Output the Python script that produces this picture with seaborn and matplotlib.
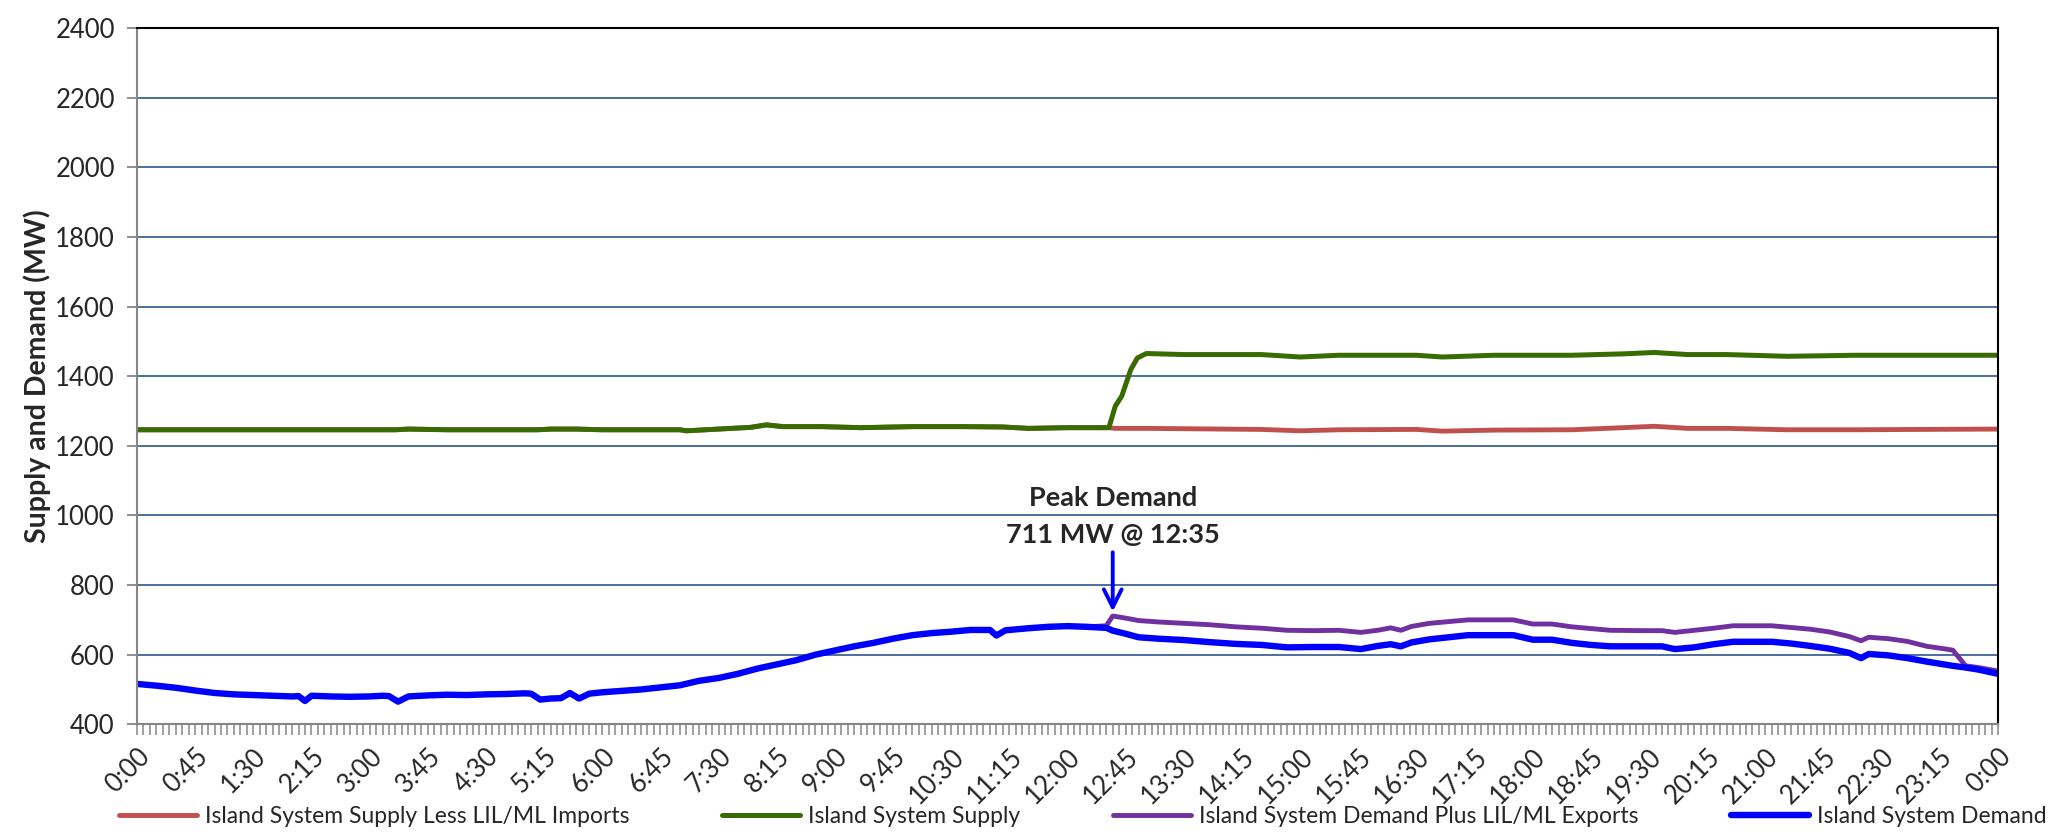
import matplotlib
matplotlib.use('Agg')
import matplotlib.pyplot as plt
import pandas as pd
import seaborn as sns

# demand readings (blue = island demand, purple = demand plus LIL/ML exports)
demand_times = ['0:00', '0:15', '0:30', '0:45', '1:00', '1:15', '1:30', '1:45', '2:00', '2:05',
                '2:10', '2:15', '2:30', '2:45', '3:00', '3:10', '3:15', '3:22', '3:30', '3:45',
                '4:00', '4:15', '4:30', '4:45', '5:00', '5:05', '5:12', '5:20', '5:28', '5:35',
                '5:42', '5:50', '6:00', '6:15', '6:30', '6:45', '7:00', '7:15', '7:30', '7:45',
                '8:00', '8:15', '8:30', '8:45', '9:00', '9:15', '9:30', '9:45', '10:00', '10:15',
                '10:30', '10:45', '11:00', '11:05', '11:12', '11:30', '11:45', '12:00', '12:15', '12:30',
                '12:35', '12:45', '12:55', '13:10', '13:30', '13:50', '14:10', '14:30', '14:50', '15:10',
                '15:30', '15:47', '16:00', '16:10', '16:18', '16:26', '16:40', '16:55', '17:10', '17:25',
                '17:45', '18:00', '18:15', '18:30', '18:45', '19:00', '19:25', '19:40', '19:50', '20:05',
                '20:20', '20:35', '20:50', '21:05', '21:20', '21:35', '21:50', '22:05', '22:14', '22:20',
                '22:35', '22:50', '23:05', '23:20', '23:25', '23:35', '23:45', '24:00']
demand_mw = [516, 511, 505, 497, 490, 486, 484, 482, 480, 481,
             467, 482, 480, 479, 480, 482, 481, 465, 480, 483,
             485, 484, 486, 487, 489, 488, 471, 474, 475, 490,
             474, 488, 492, 496, 500, 506, 512, 525, 533, 545,
             560, 572, 584, 600, 612, 624, 634, 646, 656, 662,
             666, 671, 671, 655, 670, 676, 680, 682, 680, 677,
             669, 660, 650, 646, 642, 636, 631, 628, 621, 622,
             622, 616, 625, 630, 624, 635, 644, 650, 656, 656,
             656, 643, 643, 634, 628, 624, 624, 624, 616, 621,
             630, 637, 637, 637, 632, 625, 617, 605, 590, 602,
             598, 590, 580, 571, 568, 563, 557, 545]
demand_plus_exports_mw = [516, 511, 505, 497, 490, 486, 484, 482, 480, 481,
                          467, 482, 480, 479, 480, 482, 481, 465, 480, 483,
                          485, 484, 486, 487, 489, 488, 471, 474, 475, 490,
                          474, 488, 492, 496, 500, 506, 512, 525, 533, 545,
                          560, 572, 584, 600, 612, 624, 634, 646, 656, 662,
                          666, 671, 671, 655, 670, 676, 680, 682, 680, 683,
                          711, 705, 698, 694, 690, 686, 680, 676, 670, 669,
                          670, 664, 670, 677, 670, 681, 690, 695, 700, 700,
                          700, 688, 688, 680, 675, 670, 669, 669, 664, 670,
                          676, 683, 683, 683, 678, 673, 665, 652, 640, 650,
                          646, 638, 624, 616, 613, 568, 563, 553]

# supply readings (green = island supply, red = supply less LIL/ML imports)
supply_times = ['0:00', '1:00', '2:00', '3:20', '3:30', '4:00', '5:10', '5:20', '5:40', '6:00',
                '7:00', '7:05', '7:40', '7:55', '8:07', '8:20', '8:50', '9:20', '10:00', '10:40',
                '11:10', '11:30', '12:00', '12:32', '12:37', '12:42', '12:49', '12:54', '13:01', '13:30',
                '14:30', '15:00', '15:30', '16:30', '16:50', '17:30', '18:30', '19:10', '19:34', '20:00',
                '20:30', '21:17', '22:10', '23:00', '24:00']
supply_mw = [1246, 1246, 1246, 1246, 1248, 1246, 1246, 1248, 1248, 1246,
             1246, 1243, 1250, 1253, 1260, 1255, 1255, 1252, 1255, 1255,
             1254, 1250, 1252, 1252, 1314, 1343, 1419, 1452, 1465, 1462,
             1462, 1455, 1460, 1460, 1455, 1460, 1460, 1464, 1468, 1462,
             1462, 1457, 1460, 1460, 1460]
supply_less_imports_mw = [1246, 1246, 1246, 1246, 1248, 1246, 1246, 1248, 1248, 1246,
                          1246, 1243, 1250, 1253, 1260, 1255, 1255, 1252, 1255, 1255,
                          1254, 1250, 1252, 1252, 1250, 1250, 1250, 1250, 1250, 1249,
                          1247, 1243, 1246, 1247, 1242, 1245, 1246, 1252, 1256, 1250,
                          1250, 1246, 1246, 1247, 1248]

x_tick_labels = ['0:00', '0:45', '1:30', '2:15', '3:00', '3:45', '4:30', '5:15', '6:00', '6:45',
                 '7:30', '8:15', '9:00', '9:45', '10:30', '11:15', '12:00', '12:45', '13:30', '14:15',
                 '15:00', '15:45', '16:30', '17:15', '18:00', '18:45', '19:30', '20:15', '21:00', '21:45',
                 '22:30', '23:15', '0:00']
y_ticks = [400, 600, 800, 1000, 1200, 1400, 1600, 1800, 2000, 2200, 2400]


def to_minutes(t):
    h, m = t.split(':')
    return int(h) * 60 + int(m)


demand = pd.DataFrame({'minute': [to_minutes(t) for t in demand_times],
                       'demand': demand_mw,
                       'demand_plus': demand_plus_exports_mw})
supply = pd.DataFrame({'minute': [to_minutes(t) for t in supply_times],
                       'supply': supply_mw,
                       'supply_less': supply_less_imports_mw})

sns.set_style('white')
plt.rcParams['font.family'] = ['Lato', 'DejaVu Sans']
TICK_FS = 18.5
LEG_FS = 16.5

fig = plt.figure(figsize=(20.55, 8.35), dpi=100)
ax = fig.add_axes([137 / 2055, 1 - 724.3 / 835, 1861 / 2055, 696.3 / 835])

grid_col = '#3F6394'
for v in y_ticks[1:-1]:
    ax.axhline(v, color=grid_col, lw=1.3, zorder=0)

sns.lineplot(data=supply, x='minute', y='supply_less', ax=ax, color='#C0504D', lw=3.5,
             estimator=None, label='Island System Supply Less LIL/ML Imports')
sns.lineplot(data=supply, x='minute', y='supply', ax=ax, color='#386B00', lw=3.6,
             estimator=None, label='Island System Supply')
sns.lineplot(data=demand, x='minute', y='demand_plus', ax=ax, color='#7030A0', lw=3.5,
             estimator=None, label='Island System Demand Plus LIL/ML Exports')
sns.lineplot(data=demand, x='minute', y='demand', ax=ax, color='#0000FF', lw=4.6,
             estimator=None, label='Island System Demand')

ax.set_xlim(0, 1440)
ax.set_ylim(400, 2400)
ax.set_yticks(y_ticks)
ax.set_yticklabels([str(v) for v in y_ticks])
ax.set_xticks([i * 45 for i in range(len(x_tick_labels))])
ax.set_xticklabels(x_tick_labels, rotation=45, ha='right', rotation_mode='anchor')
ax.set_xticks(range(0, 1441, 5), minor=True)
ax.tick_params(axis='y', which='major', length=7, width=1.3, color='#868686',
               labelsize=TICK_FS, pad=9, left=True)
ax.tick_params(axis='x', which='both', length=8, width=1.1, color='#868686',
               labelsize=TICK_FS, pad=6, bottom=True, direction='out')

ax.set_xlabel('')
ax.set_ylabel('Supply and Demand (MW)', fontsize=20.5, fontweight='bold')
ax.yaxis.set_label_coords(-0.046, 0.5)

for side in ['left', 'bottom']:
    ax.spines[side].set_color('#868686')
    ax.spines[side].set_linewidth(1.5)
for side in ['top', 'right']:
    ax.spines[side].set_color('black')
    ax.spines[side].set_linewidth(1.5)

# peak annotation
ax.text(755, 1050, 'Peak Demand', ha='center', va='center', fontsize=19.5, fontweight='bold')
ax.text(755, 944, '711 MW @ 12:35', ha='center', va='center', fontsize=19.5, fontweight='bold')
ax.annotate('', xy=(755, 716), xytext=(755, 902),
            arrowprops=dict(arrowstyle='->', color='#0000FF', lw=2.8, mutation_scale=32))

handles, labels = ax.get_legend_handles_labels()
ax.legend_.remove()
fig.legend(handles, labels, loc='center', bbox_to_anchor=(0.527, 0.022), ncol=4,
           frameon=False, fontsize=LEG_FS, handlelength=3.4, handletextpad=0.35,
           columnspacing=4.05, borderaxespad=0)

fig.savefig('out.png', dpi=100)
